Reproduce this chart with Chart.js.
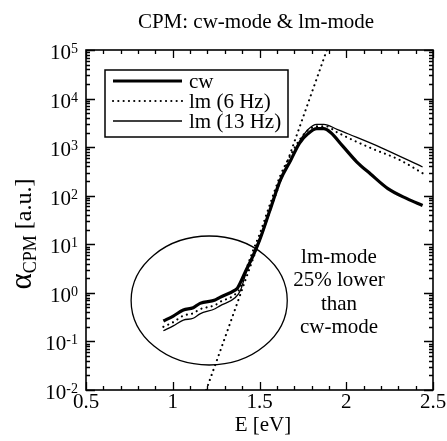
<!DOCTYPE html>
<html>
<head>
<meta charset="utf-8">
<script src="https://cdn.jsdelivr.net/npm/chart.js@4/dist/chart.umd.min.js"></script>
<style>
  html, body { margin: 0; padding: 0; background: #fff; }
  #wrap { width: 447px; height: 441px; }
</style>
</head>
<body>
<div id="wrap"><canvas id="c" width="447" height="441"></canvas></div>
<script>
// CPM absorption spectra: continuous-wave vs. light-modulated measurement
const energyCw = [0.946, 1.003, 1.061, 1.118, 1.157, 1.244, 1.272, 1.359, 1.374, 1.42, 1.46, 1.50, 1.56, 1.62, 1.68, 1.73, 1.78, 1.83, 1.87, 1.91, 1.98, 2.06, 2.14, 2.24, 2.35, 2.44];
const alphaCw  = [0.263, 0.333, 0.443, 0.493, 0.608, 0.711, 0.807, 1.14, 1.27, 2.8, 5.5, 12, 50, 210, 540, 1200, 1900, 2400, 2400, 2000, 1050, 500, 280, 140, 87, 63];

const energyLm6 = [0.946, 1.003, 1.061, 1.118, 1.157, 1.244, 1.272, 1.359, 1.39, 1.42, 1.46, 1.50, 1.56, 1.62, 1.68, 1.73, 1.78, 1.84, 1.88, 1.95, 2.02, 2.15, 2.31, 2.44];
const alphaLm6  = [0.20, 0.25, 0.34, 0.38, 0.46, 0.56, 0.65, 0.93, 1.3, 2.8, 7, 16, 66, 260, 700, 1400, 2240, 2700, 2700, 2000, 1500, 930, 540, 290];

const energyLm13 = [0.946, 1.003, 1.061, 1.118, 1.157, 1.244, 1.272, 1.359, 1.39, 1.42, 1.46, 1.50, 1.56, 1.62, 1.68, 1.73, 1.78, 1.83, 1.87, 1.95, 2.02, 2.20, 2.44];
const alphaLm13  = [0.166, 0.209, 0.275, 0.30, 0.37, 0.47, 0.54, 0.79, 1.12, 2.4, 5.2, 11.5, 48, 210, 560, 1300, 2300, 2950, 2950, 2300, 1820, 980, 390];

// exponential (Urbach-like) tail drawn as a straight dotted line on the log axis
const energyTail = [1.193, 1.37, 1.888];
const alphaTail  = [0.01, 0.59, 100000];

const seriesNames = ['cw', 'lm (6 Hz)', 'lm (13 Hz)'];
const xTickValues = [0.5, 1, 1.5, 2, 2.5];
const yExponents = [-2, -1, 0, 1, 2, 3, 4, 5];
const noteLines = ['lm-mode', '25% lower', 'than', 'cw-mode'];

const SERIF = '"Liberation Serif", "Times New Roman", serif';
const pts = (xs, ys) => xs.map((x, i) => ({ x, y: ys[i] }));

const dotted = { borderDash: [0.1, 5.2], borderCapStyle: 'round', borderWidth: 2.1 };

const decorations = {
  id: 'decorations',
  afterDraw(chart) {
    const { ctx, chartArea: ca, scales } = chart;
    const xs = scales.x, ys = scales.y;
    ctx.save();
    ctx.strokeStyle = '#000';
    ctx.fillStyle = '#000';

    // frame
    ctx.lineWidth = 1.6;
    ctx.strokeRect(ca.left, ca.top, ca.right - ca.left, ca.bottom - ca.top);

    // inward ticks, x axis (bottom and top)
    ctx.lineWidth = 1.3;
    ctx.beginPath();
    for (let i = 5; i <= 25; i++) {
      const px = Math.round(xs.getPixelForValue(i / 10)) + 0.5;
      const len = i % 5 === 0 ? 8 : 4;
      ctx.moveTo(px, ca.bottom); ctx.lineTo(px, ca.bottom - len);
      ctx.moveTo(px, ca.top); ctx.lineTo(px, ca.top + len);
    }
    // inward ticks, y axis (left and right), log minors
    for (let e = -2; e <= 5; e++) {
      for (let m = 1; m <= 9; m++) {
        if (e === 5 && m > 1) break;
        const py = Math.round(ys.getPixelForValue(m * Math.pow(10, e))) + 0.5;
        const len = m === 1 ? 9 : 4;
        ctx.moveTo(ca.left, py); ctx.lineTo(ca.left + len, py);
        ctx.moveTo(ca.right, py); ctx.lineTo(ca.right - len, py);
      }
    }
    ctx.stroke();

    // x tick labels
    ctx.font = '21px ' + SERIF;
    ctx.textAlign = 'center';
    ctx.textBaseline = 'middle';
    xTickValues.forEach(v => {
      ctx.fillText(String(v), xs.getPixelForValue(v), ca.bottom + 12);
    });

    // y tick labels: 10 with raised exponent
    yExponents.forEach(e => {
      const py = ys.getPixelForValue(Math.pow(10, e));
      ctx.font = '21px ' + SERIF;
      const wb = ctx.measureText('10').width;
      ctx.font = '14px ' + SERIF;
      const exp = String(e);
      const we = ctx.measureText(exp).width;
      const x0 = ca.left - 8 - wb - we;
      ctx.textAlign = 'left';
      ctx.textBaseline = 'alphabetic';
      ctx.font = '21px ' + SERIF;
      ctx.fillText('10', x0, py + 9);
      ctx.font = '14px ' + SERIF;
      ctx.fillText(exp, x0 + wb, py + 3);
    });

    // chart title
    ctx.font = '21px ' + SERIF;
    ctx.textAlign = 'center';
    ctx.textBaseline = 'middle';
    ctx.fillText('CPM: cw-mode & lm-mode', 256, 22);

    // x axis title
    ctx.fillText('E [eV]', 263, 425);

    // y axis title (rotated): alpha with subscript CPM
    ctx.save();
    ctx.translate(25, 234);
    ctx.rotate(-Math.PI / 2);
    ctx.textBaseline = 'alphabetic';
    ctx.textAlign = 'left';
    ctx.font = '31px ' + SERIF;
    const wA = ctx.measureText('\u03b1').width;
    ctx.font = '18px ' + SERIF;
    const wS = ctx.measureText('CPM').width;
    ctx.font = '24px ' + SERIF;
    const wU = ctx.measureText(' [a.u.]').width;
    let cx = -(wA + wS + wU) / 2;
    ctx.font = '31px ' + SERIF;
    ctx.fillText('\u03b1', cx, 6); cx += wA;
    ctx.font = '18px ' + SERIF;
    ctx.fillText('CPM', cx, 11); cx += wS;
    ctx.font = '24px ' + SERIF;
    ctx.fillText(' [a.u.]', cx, 6);
    ctx.restore();

    // legend box
    ctx.lineWidth = 1.5;
    ctx.strokeRect(105, 70, 183, 67);
    ctx.font = '21px ' + SERIF;
    ctx.textAlign = 'left';
    ctx.textBaseline = 'middle';
    chart.data.datasets.filter(d => d.inLegend).forEach((d, i) => {
      const y = 81 + i * 20;
      ctx.save();
      ctx.lineWidth = d.borderWidth;
      ctx.lineCap = d.borderCapStyle || 'butt';
      ctx.setLineDash(d.borderDash || []);
      ctx.beginPath();
      ctx.moveTo(113, y); ctx.lineTo(182, y);
      ctx.stroke();
      ctx.restore();
      ctx.fillText(d.label, 189, y + 1);
    });

    // ellipse round the sub-gap region
    const l = xs.getPixelForValue(0.76), r = xs.getPixelForValue(1.66);
    const t = ys.getPixelForValue(14.8), b = ys.getPixelForValue(0.0327);
    ctx.lineWidth = 1.3;
    ctx.beginPath();
    ctx.ellipse((l + r) / 2, (t + b) / 2, (r - l) / 2, (b - t) / 2, 0, 0, Math.PI * 2);
    ctx.stroke();

    // note text
    ctx.font = '21px ' + SERIF;
    ctx.textAlign = 'center';
    noteLines.forEach((s, i) => ctx.fillText(s, 339, 257 + i * 23.5));

    ctx.restore();
  }
};

new Chart(document.getElementById('c'), {
  type: 'line',
  data: {
    datasets: [
      { label: seriesNames[0], data: pts(energyCw, alphaCw), borderColor: '#000', borderWidth: 3.2, inLegend: true },
      Object.assign({ label: seriesNames[1], data: pts(energyLm6, alphaLm6), borderColor: '#000', inLegend: true }, dotted),
      { label: seriesNames[2], data: pts(energyLm13, alphaLm13), borderColor: '#000', borderWidth: 1.3, inLegend: true },
      Object.assign({ label: 'tail', data: pts(energyTail, alphaTail), borderColor: '#000', inLegend: false }, dotted)
    ]
  },
  options: {
    responsive: false,
    animation: false,
    devicePixelRatio: 1,
    layout: { padding: { left: 86, right: 14, top: 50, bottom: 51 } },
    elements: {
      point: { radius: 0 },
      line: { tension: 0, cubicInterpolationMode: 'monotone', fill: false }
    },
    scales: {
      x: { type: 'linear', min: 0.5, max: 2.5, display: false },
      y: { type: 'logarithmic', min: 0.01, max: 100000, display: false }
    },
    plugins: { legend: { display: false }, tooltip: { enabled: false }, title: { display: false } }
  },
  plugins: [decorations]
});
</script>
</body>
</html>
